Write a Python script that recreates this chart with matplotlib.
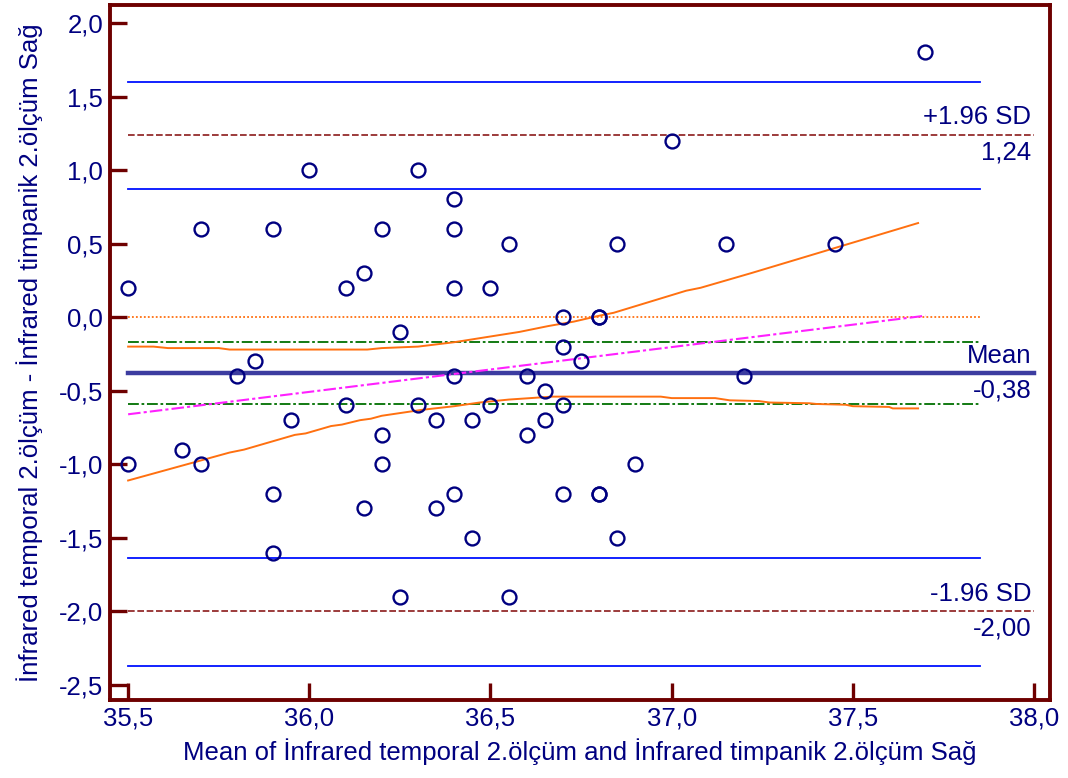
import numpy as np
import matplotlib
matplotlib.use('Agg')
import matplotlib.pyplot as plt
from matplotlib.ticker import FuncFormatter

plt.rcParams['font.family'] = ['Liberation Sans', 'DejaVu Sans']

# ortalama ve fark degerleri (her olcum cifti icin)
mean_vals = [35.5, 35.5, 35.65, 35.7, 35.7, 35.8, 35.85, 35.9, 35.9, 35.9,
             35.95, 36.0, 36.1, 36.1, 36.15, 36.15, 36.2, 36.2, 36.2, 36.25,
             36.25, 36.3, 36.3, 36.35, 36.35, 36.4, 36.4, 36.4, 36.4, 36.4,
             36.45, 36.45, 36.5, 36.5, 36.55, 36.55, 36.6, 36.6, 36.65, 36.65,
             36.7, 36.7, 36.7, 36.7, 36.75, 36.8, 36.8, 36.8, 36.8, 36.85,
             36.85, 36.9, 37.0, 37.15, 37.2, 37.45, 37.7]
diff_vals = [0.2, -1.0, -0.9, 0.6, -1.0, -0.4, -0.3, 0.6, -1.2, -1.6,
             -0.7, 1.0, 0.2, -0.6, 0.3, -1.3, 0.6, -0.8, -1.0, -0.1,
             -1.9, 1.0, -0.6, -0.7, -1.3, 0.8, 0.6, 0.2, -0.4, -1.2,
             -0.7, -1.5, 0.2, -0.6, 0.5, -1.9, -0.4, -0.8, -0.5, -0.7,
             0.0, -0.2, -0.6, -1.2, -0.3, 0.0, 0.0, -1.2, -1.2, 0.5,
             -1.5, -1.0, 1.2, 0.5, -0.4, 0.5, 1.8]

# Bland-Altman istatistikleri
mean_diff = -0.38
upper_loa = 1.24
lower_loa = -2.00
mean_ci = [-0.59, -0.17]
upper_loa_ci = [0.87, 1.60]
lower_loa_ci = [-2.37, -1.64]

# regresyon dogrusu ve %95 guven bandi
reg_x = [35.5, 37.7]
reg_y = [-0.66, 0.01]
band_up_x = [35.5, 35.57, 35.61, 35.75, 35.78, 36.16, 36.2, 36.3, 36.4, 36.58,
             36.66, 36.73, 36.8, 36.84, 37.04, 37.08, 37.22, 37.68]
band_up_y = [-0.20, -0.20, -0.21, -0.21, -0.22, -0.22, -0.21, -0.20, -0.17, -0.10,
             -0.06, -0.03, 0.01, 0.03, 0.18, 0.20, 0.30, 0.64]
band_lo_x = [35.5, 35.78, 35.82, 35.96, 35.99, 36.06, 36.09, 36.14, 36.17, 36.2,
             36.31, 36.4, 36.47, 36.55, 36.67, 36.97, 37.0, 37.12, 37.16, 37.24,
             37.27, 37.38, 37.4, 37.48, 37.5, 37.6, 37.61, 37.68]
band_lo_y = [-1.11, -0.92, -0.90, -0.80, -0.79, -0.74, -0.73, -0.70, -0.69, -0.67,
             -0.63, -0.605, -0.58, -0.56, -0.54, -0.54, -0.55, -0.55, -0.565, -0.57,
             -0.58, -0.585, -0.59, -0.595, -0.605, -0.61, -0.62, -0.62]

navy = '#000080'
frame = '#6E0000'

fig = plt.figure(figsize=(10.68, 7.78), dpi=100)
ax = fig.add_axes([110 / 1068, 1 - 700 / 778, 940 / 1068, 695 / 778])

x0, x1, x2 = 35.5, 37.85, 38.0

# guven araliklari
for yv in upper_loa_ci + lower_loa_ci:
    ax.plot([x0, x1], [yv, yv], color='#0010FF', lw=1.3)
for yv in mean_ci:
    ax.plot([x0, x1], [yv, yv], color='#007000', lw=1.3, dashes=(6, 1.5, 1.5, 1.5))
ax.plot([x0, x1], [0, 0], color='#FF7010', lw=1.3, dashes=(1, 1.2))

# uyum sinirlari ve ortalama
for yv in [upper_loa, lower_loa]:
    ax.plot([x0, x2], [yv, yv], color='#8B1A1A', lw=1.2, dashes=(4, 1.6))
ax.plot([x0, x2], [mean_diff, mean_diff], color='#3C3CA0', lw=3.2)

ax.plot(reg_x, reg_y, color='#FF20FF', lw=1.5, dashes=(6, 1.5, 1.5, 1.5))
ax.plot(band_up_x, band_up_y, color='#FF7010', lw=1.4)
ax.plot(band_lo_x, band_lo_y, color='#FF7010', lw=1.4)

ax.plot(mean_vals, diff_vals, 'o', ls='none', ms=10, mfc='none', mec=navy, mew=1.7)

# sag taraftaki etiketler
fs = 18.5
def label(yv, txt, above):
    ax.annotate(txt, (x2, yv), xytext=(-2, 4 if above else -4), textcoords='offset points',
                ha='right', va='bottom' if above else 'top', color=navy, fontsize=fs)

label(upper_loa, '+1.96 SD', True)
label(upper_loa, f'{upper_loa:.2f}'.replace('.', ','), False)
label(mean_diff, 'Mean', True)
label(mean_diff, f'{mean_diff:.2f}'.replace('.', ','), False)
label(lower_loa, '-1.96 SD', True)
label(lower_loa, f'{lower_loa:.2f}'.replace('.', ','), False)

ax.set_xlim(35.45, 38.044)
ax.set_ylim(-2.602, 2.122)
comma = FuncFormatter(lambda v, _: f'{v:.1f}'.replace('.', ','))
ax.xaxis.set_major_formatter(comma)
ax.yaxis.set_major_formatter(comma)
ax.set_xticks(np.arange(35.5, 38.01, 0.5))
ax.set_yticks(np.arange(-2.5, 2.01, 0.5))
ax.tick_params(direction='in', length=12.5, width=2.4, color=frame,
               labelcolor=navy, labelsize=fs, pad=5)
for sp in ax.spines.values():
    sp.set_color(frame)
    sp.set_linewidth(2.8)

ax.set_xlabel('Mean of İnfrared temporal 2.ölçüm and İnfrared timpanik 2.ölçüm Sağ',
              color=navy, fontsize=fs, labelpad=5)
ax.set_ylabel('İnfrared temporal 2.ölçüm - İnfrared timpanik 2.ölçüm Sağ',
              color=navy, fontsize=fs, labelpad=11)

fig.savefig('out.png', dpi=100)
